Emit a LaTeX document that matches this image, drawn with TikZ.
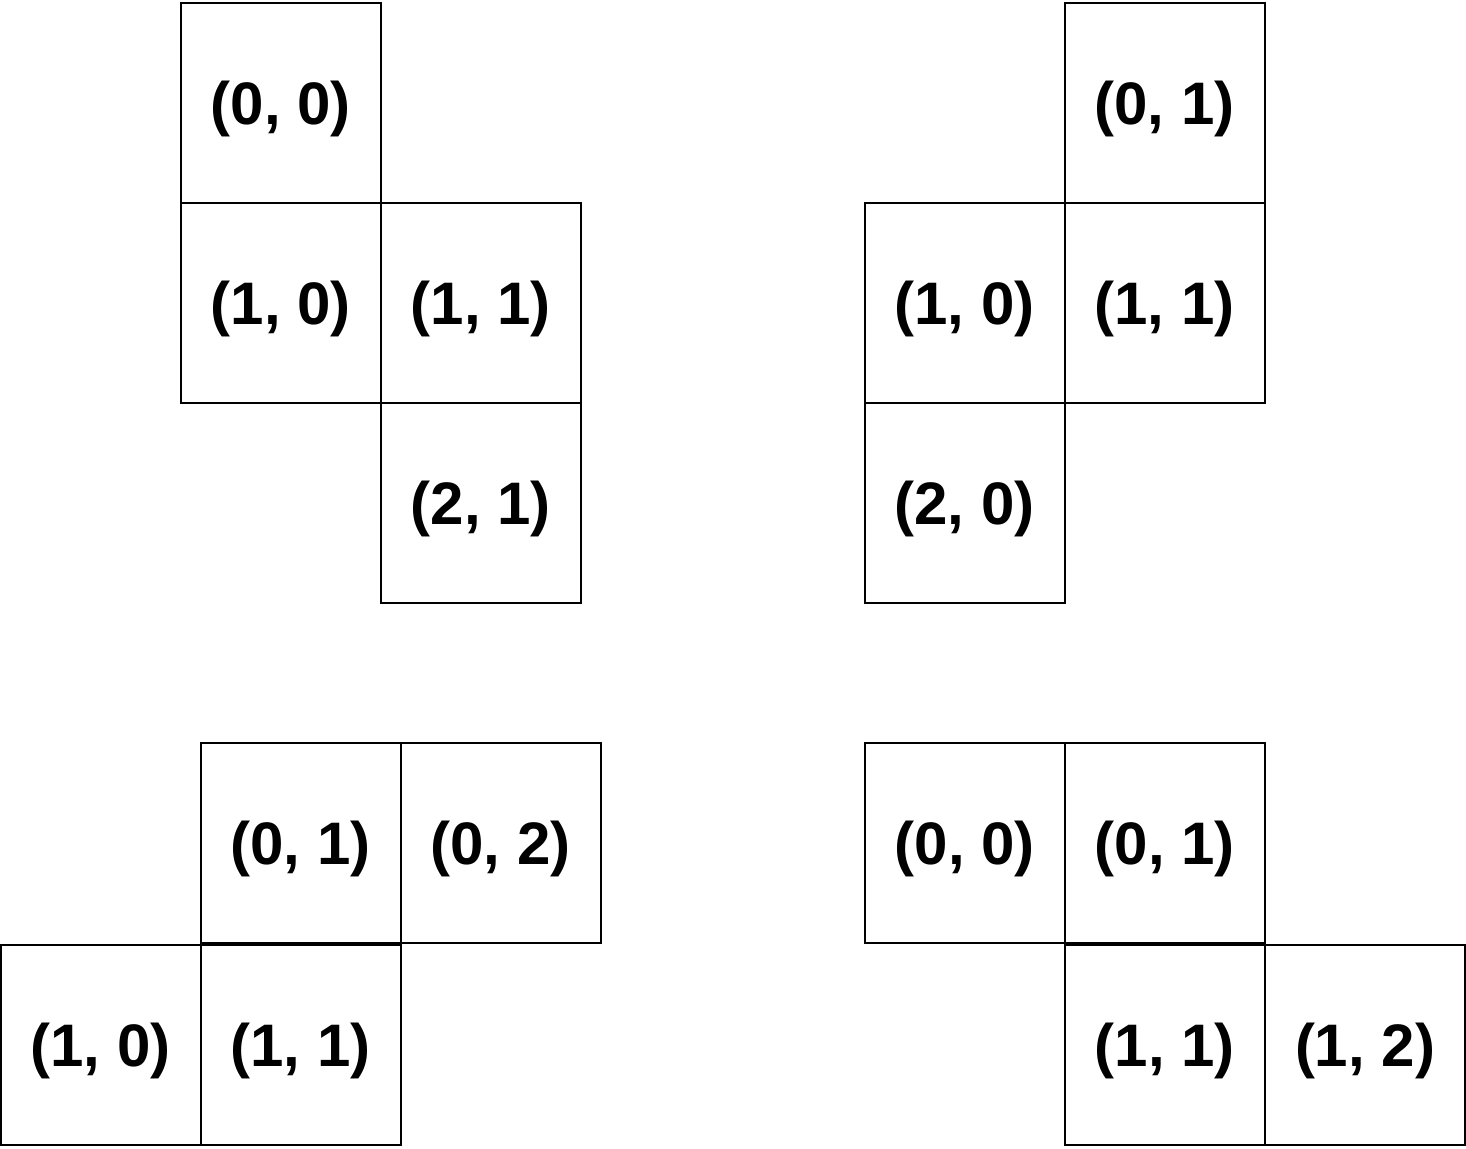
\documentclass[tikz,border=0pt]{standalone}
\usepackage{fontspec}
\setmainfont{Liberation Sans}
\usetikzlibrary{positioning}

\begin{document}
\begin{tikzpicture}[
  x=0.5pt, y=-0.5pt,
  node distance=0pt and 0pt,
  cell/.style={draw, line width=1pt, minimum size=100pt, inner sep=0pt,
    outer sep=0pt, text depth=0pt,
    font=\fontsize{30}{32}\selectfont\bfseries}
]
\useasboundingbox (0,0) rectangle (1466,1148);
% top left
\node[cell] (a00) at (281,103) {(0, 0)};
\node[cell, below=of a00] (a10) {(1, 0)};
\node[cell, right=of a10] (a11) {(1, 1)};
\node[cell, below=of a11] (a21) {(2, 1)};
% top right
\node[cell] (b01) at (1164.5,103) {(0, 1)};
\node[cell, below=of b01] (b11) {(1, 1)};
\node[cell, left=of b11] (b10) {(1, 0)};
\node[cell, below=of b10] (b20) {(2, 0)};
% bottom left
\node[cell] (c01) at (300.5,843) {(0, 1)};
\node[cell, right=of c01] (c02) {(0, 2)};
\node[cell, below=1pt of c01] (c11) {(1, 1)};
\node[cell, left=of c11] (c10) {(1, 0)};
% bottom right
\node[cell] (d00) at (965,843) {(0, 0)};
\node[cell, right=of d00] (d01) {(0, 1)};
\node[cell, below=1pt of d01] (d11) {(1, 1)};
\node[cell, right=of d11] (d12) {(1, 2)};
\end{tikzpicture}
\end{document}
